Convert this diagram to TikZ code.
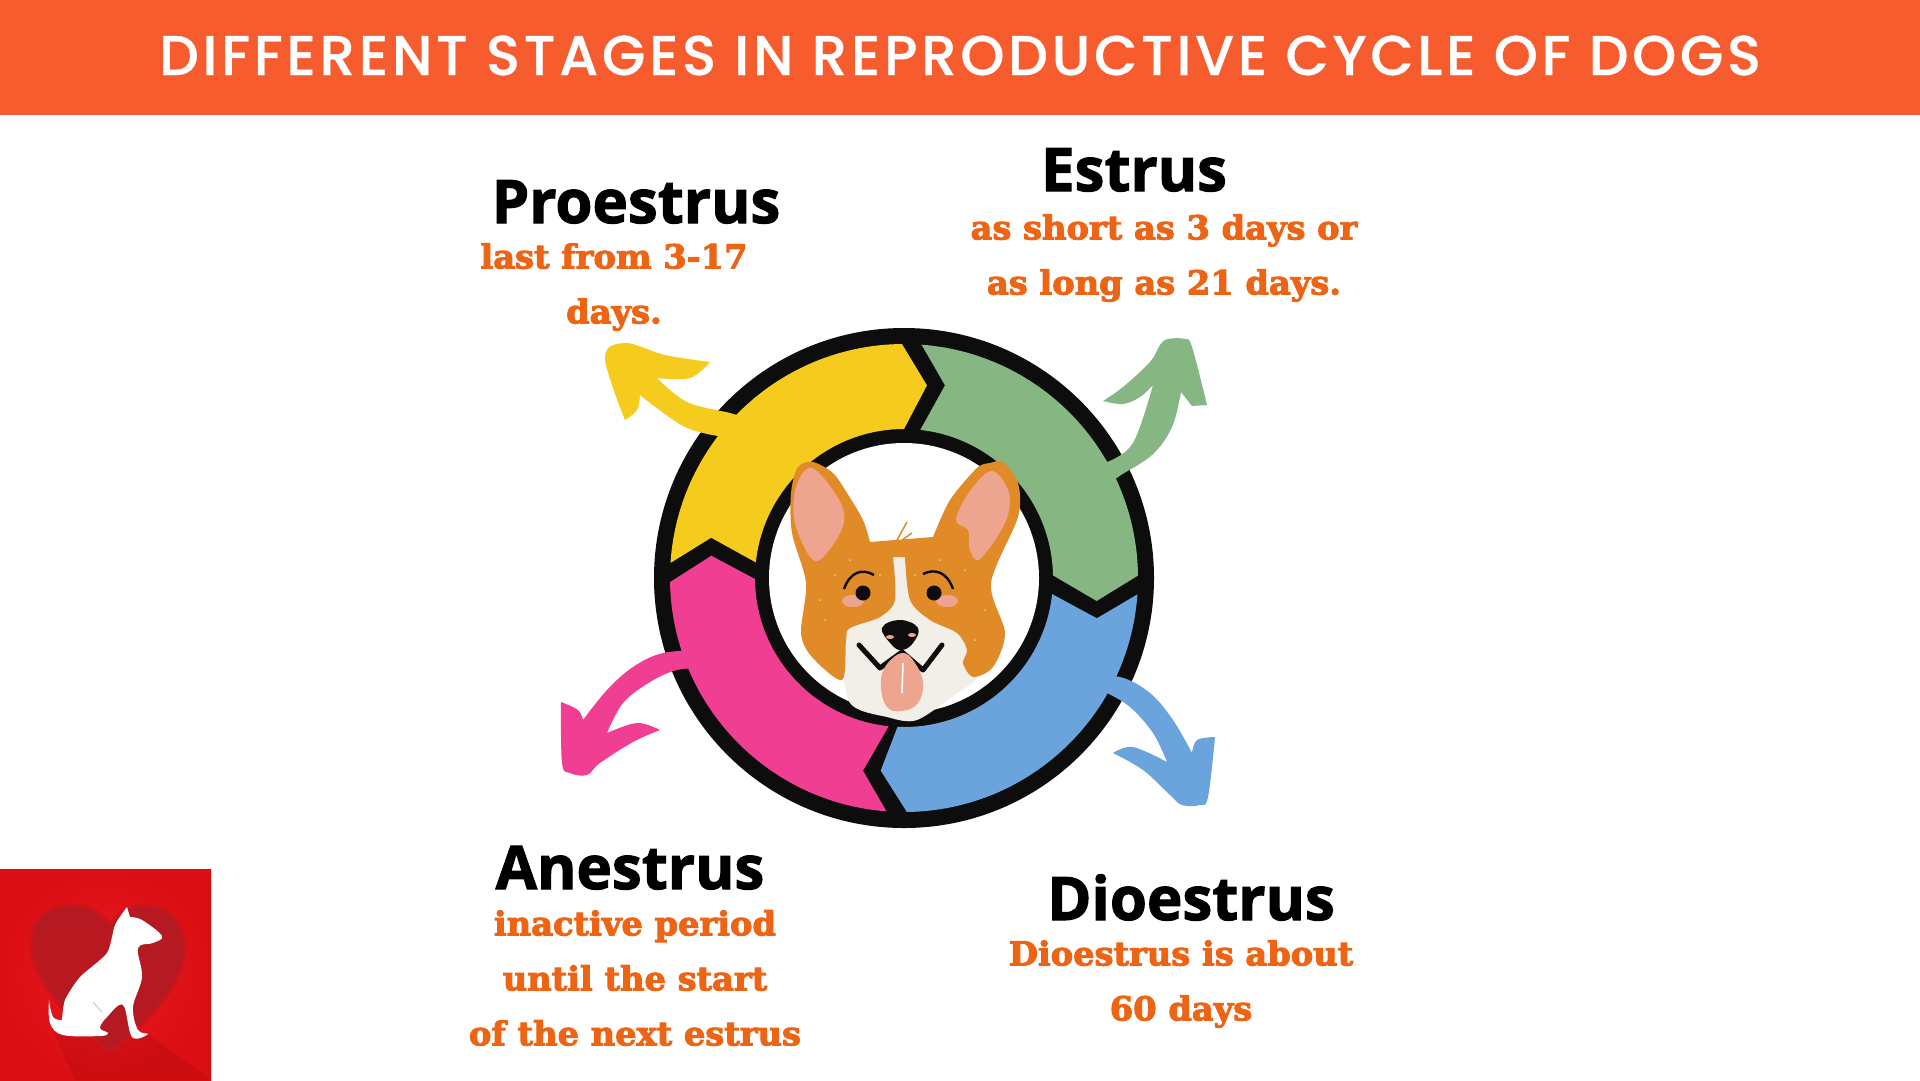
\documentclass[tikz,border=0pt]{standalone}
\usepackage{fontspec}
\usepackage{xcolor}
\newfontfamily\bannerfont[LetterSpace=6.8,FakeBold=0.6]{Poppins Medium}
\newfontfamily\stagefont[FakeBold=1.8]{Open Sans Bold}
\newfontfamily\notefont[FakeBold=3,FakeStretch=1.02]{DejaVu Serif Bold}
\definecolor{bannerorange}{HTML}{F75C2F}
\definecolor{noteorange}{HTML}{EE6415}
\definecolor{ringblack}{HTML}{0D0D0D}
\definecolor{segyellow}{HTML}{F5CC1E}
\definecolor{seggreen}{HTML}{86B783}
\definecolor{segblue}{HTML}{6BA3DC}
\definecolor{segpink}{HTML}{F03E92}
\definecolor{furorange}{HTML}{E08A28}
\definecolor{furwhite}{HTML}{F1EFE8}
\definecolor{earpink}{HTML}{EDA58F}
\definecolor{logored}{HTML}{E60F14}
\definecolor{heartred}{HTML}{B51A22}
\tikzset{
  stagelabel/.style={font=\stagefont\fontsize{60}{60}\selectfont, text=black, inner sep=0pt, anchor=base},
  notelabel/.style={font=\notefont\fontsize{33}{55}\selectfont, text=noteorange, inner sep=0pt, align=center},
}
\begin{document}
\begin{tikzpicture}[x=1pt,y=-1pt]
\useasboundingbox (0,0) rectangle (1920,1080);
\fill[white] (0,0) rectangle (1920,1080);
\fill[bannerorange] (0,0) rectangle (1920,115);
\node[font=\bannerfont\fontsize{56}{56}\selectfont, text=white, inner sep=0pt, anchor=base] (banner) at (960,75) {DIFFERENT STAGES IN REPRODUCTIVE CYCLE OF DOGS};

% ring
\begin{scope}[shift={(904,578)},y=1pt]
\fill[ringblack] (0,0) circle (250);
\foreach \segcol/\oa/\ob/\tipa/\ia/\ib/\nota in {segyellow/176.3/90.5/83.2/90/174/168.2, seggreen/85.7/0.6/-6.8/1/83.7/78, segblue/-4/-89.3/-96.9/-92.5/-6.2/-11.8, segpink/-94.3/-179/-186.6/-179.6/-95.9/-102} {
    \fill[\segcol] (\oa:234) arc[start angle=\oa,end angle=\ob,radius=234] -- (\tipa:194) -- (\ia:149) arc[start angle=\ia,end angle=\ib,radius=149] -- (\nota:197) -- cycle;
}
\fill[white] (0,0) circle (135);
\end{scope}

% small arrows
\fill[segyellow] plot[smooth,tension=.6] coordinates {(640,395) (637,410) (625,420)} -- plot[smooth,tension=.6] coordinates {(625,420) (605,358) (625,343) (665,355) (710,362)} -- plot[smooth,tension=.6] coordinates {(710,362) (690,378) (657,378)} -- plot[smooth,tension=.6] coordinates {(657,378) (687,402) (730,413) (745,418)} -- (745,445) -- plot[smooth,tension=.6] coordinates {(725,437) (685,427) (640,395)} -- cycle;
\fill[seggreen] plot[smooth,tension=.6] coordinates {(1103,401) (1123,387) (1150,362) (1160,345) (1168,339) (1185,339) (1192,347) (1207,405)} -- (1192,406) -- (1181,392) -- plot[smooth,tension=.6] coordinates {(1181,392) (1172,427) (1152,455) (1118,477) (1103,490)} -- (1085,470) -- plot[smooth,tension=.6] coordinates {(1107,462) (1133,443) (1153,385)} -- plot[smooth,tension=.6] coordinates {(1153,385) (1140,397) (1123,404) (1103,401)} -- cycle;
\fill[segblue] plot[smooth,tension=.6] coordinates {(1085,677) (1120,677) (1150,693) (1173,720) (1192,753)} -- plot[smooth,tension=.6] coordinates {(1192,753) (1197,740) (1215,737)} -- plot[smooth,tension=.6] coordinates {(1215,737) (1208,797) (1200,805) (1182,805) (1170,795) (1143,770) (1113,753)} -- plot[smooth,tension=.6] coordinates {(1113,753) (1133,747) (1167,762)} -- plot[smooth,tension=.6] coordinates {(1167,762) (1153,733) (1130,707) (1107,693)} -- (1085,700) -- cycle;
\fill[segpink] plot[smooth,tension=.6] coordinates {(705,650) (663,653) (633,667) (607,690) (583,720)} -- plot[smooth,tension=.6] coordinates {(583,720) (578,710) (561,702)} -- plot[smooth,tension=.6] coordinates {(561,702) (562,763) (570,773) (587,775) (600,763) (633,742) (660,730)} -- plot[smooth,tension=.6] coordinates {(660,730) (637,723) (607,733)} -- plot[smooth,tension=.6] coordinates {(607,733) (623,703) (650,682) (677,670) (705,668)} -- cycle;

% corgi
\fill[furwhite] plot[smooth cycle,tension=.5] coordinates {(842,650) (850,703) (887,717) (917,720) (957,693) (977,677) (975,640) (930,610) (905,557) (900,551) (893,557) (880,610) (850,628)};
\fill[furorange] plot[smooth,tension=.5] coordinates {(870,542) (863,520) (847,493) (833,473) (813,462) (798,467) (791,493) (792,533) (806,583) (801,633) (812,657) (842,680) (846,640) (850,628) (880,617) (895,600) (893,557)} -- plot[smooth,tension=.5] coordinates {(905,557) (910,600) (930,620) (957,633) (967,650) (963,663) (973,677) (993,667) (1005,633) (991,583) (1018,517) (1018,483) (1003,462) (990,463) (977,468) (950,500) (933,537)} -- cycle;
\draw[furorange,line width=1.5pt] (897,540) -- (907,522) (902,540) -- (912,533);
\fill[earpink] plot[smooth cycle,tension=.6] coordinates {(812,468) (796,487) (795,523) (813,560) (830,549) (844,522) (838,498)};
\fill[earpink] plot[smooth cycle,tension=.6] coordinates {(992,471) (1009,493) (1005,523) (980,559) (970,550) (968,530) (956,520) (970,491)};
\foreach \spkx/\spky in {835/575,850/560,880/575,825/620,940/560,985/610,965/570,975/640,820/600,915/575} {
    \fill[white,opacity=.5] (\spkx,\spky) circle (1);
}
\fill[earpink] (853,601) ellipse (11 and 6) (947,601) ellipse (11 and 6);
\fill[ringblack] (863,593) circle (7.5) (934,593) circle (7.5);
\draw[ringblack,line width=2.4pt] (844,589) .. controls (850,572) and (862,568) .. (874,575);
\draw[ringblack,line width=2.4pt] (923,574) .. controls (935,568) and (947,572) .. (953,589);
\draw[ringblack,line width=5pt,line cap=round,line join=round] (859,645) -- (880,668) -- (902,652) -- (923,670) -- (942,645);
\fill[earpink] plot[smooth cycle,tension=.7] coordinates {(902,653) (885,667) (881,687) (887,707) (902,711) (918,703) (923,683) (915,663)};
\draw[white,line width=1.5pt] (903,663) -- (902,693);
\fill[ringblack] plot[smooth cycle,tension=.7] coordinates {(882,628) (900,620) (918,628) (913,643) (902,650) (892,645)};
\fill[earpink] (890,637) ellipse (4 and 2) (912,635) ellipse (4 and 2);

% logo
\shade[inner color=logored!95!white,outer color=logored!95!black] (0,869) rectangle (211,1080);
\fill[black,opacity=.07] (50,1023) -- (148,1034) -- (211,1080) -- (75,1080) -- cycle;
\draw[heartred!50!logored,line width=6pt,line join=round] (110,927) .. controls (95,900) and (50,898) .. (36,925) .. controls (22,955) and (45,1000) .. (110,1050) .. controls (175,1000) and (195,955) .. (178,925) .. controls (165,900) and (125,900) .. (110,927) -- cycle;
\begin{scope}
\clip (110,927) .. controls (95,900) and (50,898) .. (36,925) .. controls (22,955) and (45,1000) .. (110,1050) .. controls (175,1000) and (195,955) .. (178,925) .. controls (165,900) and (125,900) .. (110,927) -- cycle;
\fill[heartred] (0,869) rectangle (211,1080);
\foreach \hatchy in {930,936,...,1000} {
    \draw[logored!70!heartred,line width=.6pt] (30,\hatchy+10) -- (110,\hatchy-20);
}
\end{scope}
\fill[white] plot[smooth,tension=.4] coordinates {(127,907) (115,925) (107,953) (80,977) (65,1000) (62,1020)} -- plot[smooth,tension=.6] coordinates {(62,1020) (53,1017) (49,1000)} -- plot[smooth,tension=.6] coordinates {(49,1000) (50,1023) (63,1035) (100,1036) (108,1033) (100,1028) (107,1017) (123,1005) (132,1037) (148,1034) (138,1030) (133,1007) (142,977) (138,948) (153,943) (162,936) (142,920) (130,917)} -- cycle;
\draw[black!25,line width=.8pt] (93,1002) -- (102,1012);

% labels
\node[stagelabel] (proestrus) at (636,223) {Proestrus};
\node[stagelabel] (estrus) at (1134,191) {Estrus};
\node[stagelabel] (anestrus) at (630,889) {Anestrus};
\node[stagelabel] (dioestrus) at (1191,920) {Dioestrus};
\node[notelabel] (proestrusnote) at (614,287) {last from 3-17\\days.};
\node[notelabel] (estrusnote) at (1164,258) {as short as 3 days or\\as long as 21 days.};
\node[notelabel] (anestrusnote) at (635,978) {inactive period\\until the start\\of the next estrus};
\node[notelabel] (dioestrusnote) at (1181,984) {Dioestrus is about\\60 days};
\end{tikzpicture}
\end{document}
